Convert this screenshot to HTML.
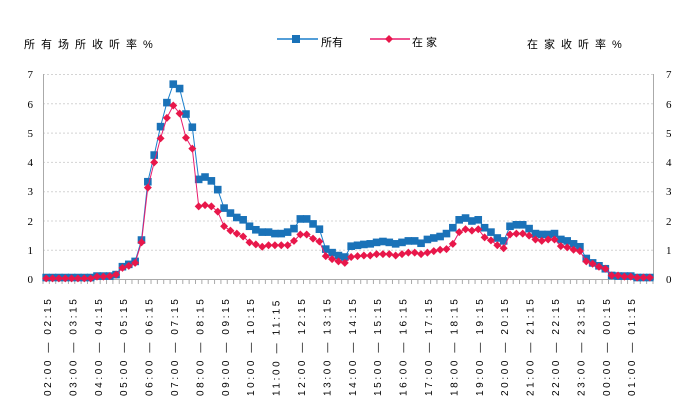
<!DOCTYPE html>
<html><head><meta charset="utf-8"><style>
html,body{margin:0;padding:0;background:#fff;}
svg{display:block;font-family:"Liberation Serif","Noto Serif CJK SC",serif;}
.cj{font-family:"Liberation Sans","Noto Sans CJK SC",sans-serif;font-size:11px;fill:#000;}
.tk{font-size:11px;fill:#000;}
.xl{font-size:10px;fill:#000;letter-spacing:2.6px;font-family:"Liberation Sans",sans-serif;}
</style></head><body>
<svg id="s" width="700" height="409" viewBox="0 0 700 409" xmlns="http://www.w3.org/2000/svg">
<text class="cj" x="24" y="48" letter-spacing="6">所有场所收听率%</text>
<line x1="277" y1="39" x2="318" y2="39" stroke="#1a7fcc" stroke-width="1.5"/>
<rect x="292" y="35" width="8" height="8" fill="#1a72b8"/>
<text class="cj" x="321" y="46">所有</text>
<line x1="370" y1="39" x2="410" y2="39" stroke="#ea1c6e" stroke-width="1.5"/>
<polygon points="389,35 393,39 389,43 385,39" fill="#e8174a"/>
<text class="cj" x="412" y="46" letter-spacing="3">在家</text>
<text class="cj" x="527" y="48" letter-spacing="6">在家收听率%</text>
<g id="grid" stroke="#d4d4d4" stroke-dasharray="2,2" stroke-width="1">
<line x1="43" x2="653" y1="74.5" y2="74.5"/><line x1="43" x2="653" y1="103.8" y2="103.8"/>
<line x1="43" x2="653" y1="133.1" y2="133.1"/><line x1="43" x2="653" y1="162.4" y2="162.4"/>
<line x1="43" x2="653" y1="191.7" y2="191.7"/><line x1="43" x2="653" y1="221" y2="221"/>
<line x1="43" x2="653" y1="250.3" y2="250.3"/>
</g>
<line x1="43.5" y1="74" x2="43.5" y2="280" stroke="#aaa"/>
<line x1="653.5" y1="74" x2="653.5" y2="280" stroke="#aaa"/>
<line x1="43" y1="279.5" x2="654" y2="279.5" stroke="#aaa"/>
<g class="tk" text-anchor="end">
<text x="33" y="283">0</text><text x="33" y="254">1</text><text x="33" y="225">2</text><text x="33" y="195">3</text><text x="33" y="166">4</text><text x="33" y="137">5</text><text x="33" y="108">6</text><text x="33" y="78">7</text>
</g>
<g class="tk">
<text x="666" y="283">0</text><text x="666" y="254">1</text><text x="666" y="225">2</text><text x="666" y="195">3</text><text x="666" y="166">4</text><text x="666" y="137">5</text><text x="666" y="108">6</text><text x="666" y="78">7</text>
</g>
<g id="ticks" stroke="#aaa"></g>
<g id="data"></g>
<g class="xl" id="xl">
<text transform="translate(51,396) rotate(-90)">02:00 — 02:15</text>
<text transform="translate(76.4,396) rotate(-90)">03:00 — 03:15</text>
<text transform="translate(101.8,396) rotate(-90)">04:00 — 04:15</text>
<text transform="translate(127.2,396) rotate(-90)">05:00 — 05:15</text>
<text transform="translate(152.6,396) rotate(-90)">06:00 — 06:15</text>
<text transform="translate(178,396) rotate(-90)">07:00 — 07:15</text>
<text transform="translate(203.4,396) rotate(-90)">08:00 — 08:15</text>
<text transform="translate(228.8,396) rotate(-90)">09:00 — 09:15</text>
<text transform="translate(254.2,396) rotate(-90)">10:00 — 10:15</text>
<text transform="translate(279.6,396) rotate(-90)">11:00 — 11:15</text>
<text transform="translate(305,396) rotate(-90)">12:00 — 12:15</text>
<text transform="translate(330.4,396) rotate(-90)">13:00 — 13:15</text>
<text transform="translate(355.8,396) rotate(-90)">14:00 — 14:15</text>
<text transform="translate(381.2,396) rotate(-90)">15:00 — 15:15</text>
<text transform="translate(406.6,396) rotate(-90)">16:00 — 16:15</text>
<text transform="translate(432,396) rotate(-90)">17:00 — 17:15</text>
<text transform="translate(457.4,396) rotate(-90)">18:00 — 18:15</text>
<text transform="translate(482.8,396) rotate(-90)">19:00 — 19:15</text>
<text transform="translate(508.2,396) rotate(-90)">20:00 — 20:15</text>
<text transform="translate(533.6,396) rotate(-90)">21:00 — 21:15</text>
<text transform="translate(559,396) rotate(-90)">22:00 — 22:15</text>
<text transform="translate(584.4,396) rotate(-90)">23:00 — 23:15</text>
<text transform="translate(609.8,396) rotate(-90)">00:00 — 00:15</text>
<text transform="translate(635.2,396) rotate(-90)">01:00 — 01:15</text>
</g>
</svg>
<script>
var B=[.05,.05,.05,.05,.05,.05,.05,.05,.1,.1,.1,.15,.42,.5,.6,1.33,3.32,4.23,5.2,6.02,6.65,6.5,5.63,5.18,3.4,3.48,3.35,3.05,2.42,2.25,2.1,2.02,1.8,1.68,1.6,1.6,1.55,1.55,1.6,1.72,2.05,2.05,1.88,1.7,1.02,.9,.8,.75,1.12,1.15,
1.18,1.2,1.25,1.28,1.25,1.2,1.25,1.3,1.3,1.22,1.35,1.4,1.45,1.55,1.75,2.02,2.08,1.98,2.02,1.75,1.6,1.4,1.3,1.8,1.85,1.85,1.72,1.55,1.52,1.52,1.55,1.35,1.3,1.2,1.1,.7,.55,.45,.35,.12,.1,.1,.1,.05,.05,.05];
var R=[.02,.02,.02,.02,.02,.02,.02,.02,.08,.08,.1,.15,.38,.45,.55,1.25,3.12,3.98,4.8,5.5,5.92,5.65,4.82,4.45,2.48,2.52,2.48,2.3,1.8,1.65,1.55,1.45,1.25,1.18,1.1,1.15,1.15,1.15,1.15,1.3,1.52,1.52,1.38,1.28,.78,.68,.6,.55,.75,.78,
.8,.8,.85,.85,.85,.8,.85,.9,.9,.85,.9,.95,1.0,1.02,1.2,1.6,1.7,1.65,1.7,1.42,1.32,1.15,1.05,1.52,1.55,1.55,1.48,1.35,1.3,1.35,1.35,1.12,1.08,1.0,.95,.6,.52,.42,.35,.12,.12,.08,.08,.05,.05,.05];
function X(i){return 43+6.354*(i+.5)}function Y(v){return 279-v*29.3}
var h='',t='';
for(var i=0;i<=96;i++){var x=43+6.354*i;t+='<line x1="'+x+'" x2="'+x+'" y1="279" y2="284"/>';}
document.getElementById('ticks').innerHTML=t;
var pb=B.map(function(v,i){return X(i).toFixed(1)+','+Y(v).toFixed(1)}).join(' ');
var pr=R.map(function(v,i){return X(i).toFixed(1)+','+Y(v).toFixed(1)}).join(' ');
h+='<polyline points="'+pb+'" fill="none" stroke="#1a7fcc" stroke-width="1"/>';
B.forEach(function(v,i){h+='<rect x="'+(X(i)-3.8)+'" y="'+(Y(v)-3.8)+'" width="7.6" height="7.6" fill="#1a72b8"/>';});
h+='<polyline points="'+pr+'" fill="none" stroke="#ea1c6e" stroke-width="1"/>';
R.forEach(function(v,i){var x=X(i),y=Y(v);h+='<polygon points="'+x+','+(y-4)+' '+(x+4)+','+y+' '+x+','+(y+4)+' '+(x-4)+','+y+'" fill="#e8174a"/>';});
document.getElementById('data').innerHTML=h;
</script>
</body></html>
